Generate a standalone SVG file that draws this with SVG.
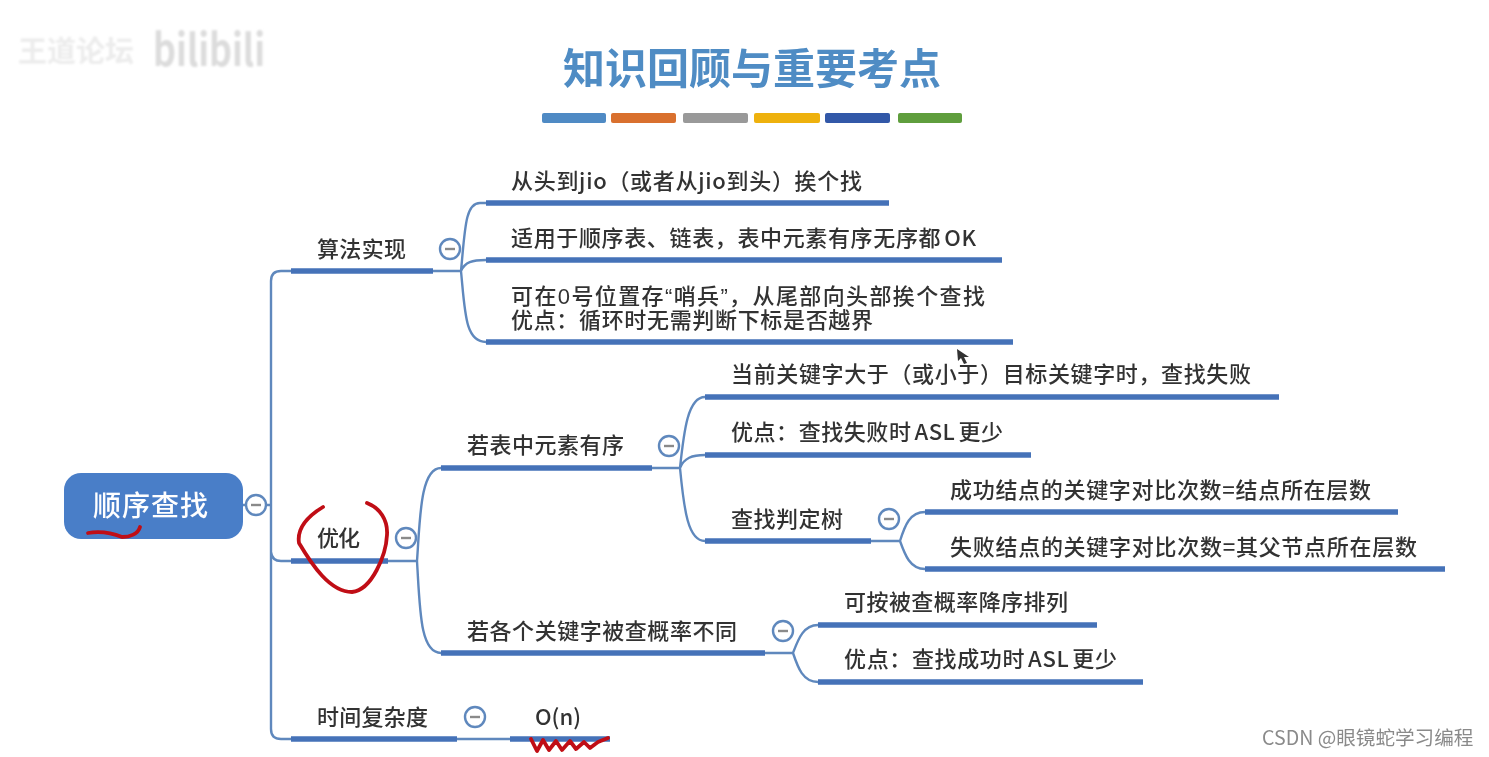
<svg xmlns="http://www.w3.org/2000/svg" width="1489" height="757" viewBox="0 0 1489 757">
<style>
text{font-family:"Noto Sans CJK SC","Liberation Sans",sans-serif}
.t{font-size:22px;fill:#333;font-weight:500}
.b{stroke:#4472b8;stroke-width:5.5;fill:none}
.c{stroke:#5f88bd;stroke-width:2.4;fill:none}
.r{stroke:#c00f14;stroke-width:3.8;fill:none;stroke-linecap:round;stroke-linejoin:round}
.k circle{fill:#fff;stroke:#5f88bd;stroke-width:2.4}
.k path{stroke:#8a8a8a;stroke-width:2.4}
.q{font-family:"Liberation Sans","Noto Sans CJK SC",sans-serif}
</style>
<defs>
<filter id="soft" x="-2%" y="-2%" width="104%" height="104%"><feGaussianBlur stdDeviation="0.55"/></filter>
<filter id="wm" x="-10%" y="-20%" width="120%" height="140%"><feGaussianBlur stdDeviation="1.3"/></filter>
</defs>
<rect width="1489" height="757" fill="#fff"/>
<g id="watermark" filter="url(#wm)"><text x="18" y="62" font-size="29" font-weight="700" fill="#ececec">王道论坛</text><text x="153" y="66" font-size="44" font-weight="700" fill="#dcdcdc" textLength="112" lengthAdjust="spacingAndGlyphs">bilibili</text></g>
<g filter="url(#soft)">
<g id="title"><text x="752" y="84" text-anchor="middle" font-size="42" font-weight="700" fill="#4f8cc4">知识回顾与重要考点</text>
<g id="title-bars"><rect x="542" y="113" width="64" height="10" rx="2" fill="#4f8ac4"/><rect x="611" y="113" width="65" height="10" rx="2" fill="#d9702f"/><rect x="683" y="113" width="65" height="10" rx="2" fill="#999"/><rect x="754" y="113" width="66" height="10" rx="2" fill="#eeb111"/><rect x="825" y="113" width="65" height="10" rx="2" fill="#3358a8"/><rect x="898" y="113" width="64" height="10" rx="2" fill="#5f9e3c"/></g></g>
<g id="connectors">
<path class="c" d="M243 505H271M291 271H281Q271 271 271 281V729Q271 739 281 739H291M271 552Q272 561 281 561H291"/>
<path class="c" d="M433 271H461M486 203H480C465 203 465 230 461 271C465 312 465 342 486 342M461 271C465 262 472 260 486 260"/>
<path class="c" d="M388 561H417M441 468C420 468 420 520 417 561C420 610 420 653 441 653"/>
<path class="c" d="M652 468H680M705 397C688 397 684 430 680 468C684 510 688 541 705 541M680 468C684 458 692 455 705 455"/>
<path class="c" d="M871 541H900M925 512C910 512 905 525 900 541C905 555 910 569 925 569"/>
<path class="c" d="M765 653H793M818 625C803 625 798 640 793 653C798 668 803 682 818 682"/>
<path class="c" d="M457 739H510"/>
</g>
<g id="root"><rect x="64" y="473" width="179" height="66" rx="17" fill="#4a7ec8"/><text x="93" y="516" font-size="28" font-weight="500" fill="#fff" textLength="115">顺序查找</text></g>
<g id="n1"><text class="t" x="317" y="257" textLength="89">算法实现</text><path class="b" d="M291 271H433"/></g>
<g id="n2"><text class="t" x="317" y="546" textLength="43">优化</text><path class="b" d="M291 561H388"/></g>
<g id="n3"><text class="t" x="317" y="725" textLength="111">时间复杂度</text><path class="b" d="M291 739H457"/></g>
<g id="n4"><text class="t" x="511" y="189" textLength="351">从头到jio（或者从jio到头）挨个找</text><path class="b" d="M486 203H889"/></g>
<g id="n5"><text class="t" x="511" y="246" textLength="465">适用于顺序表、链表，表中元素有序无序都<tspan dx="3">OK</tspan></text><path class="b" d="M486 260H1002"/></g>
<g id="n6"><text class="t q" x="511" y="304" textLength="474">可在0号位置存“哨兵”，从尾部向头部挨个查找</text><text class="t" x="511" y="328" textLength="362">优点：循环时无需判断下标是否越界</text><path class="b" d="M486 342H1013"/></g>
<g id="n7"><text class="t" x="467" y="453" textLength="157">若表中元素有序</text><path class="b" d="M441 468H652"/></g>
<g id="n8"><text class="t" x="467" y="639" textLength="270">若各个关键字被查概率不同</text><path class="b" d="M441 653H765"/></g>
<g id="n9"><text class="t" x="731" y="382" textLength="520">当前关键字大于（或小于）目标关键字时，查找失败</text><path class="b" d="M705 397H1279"/></g>
<g id="n10"><text class="t" x="731" y="440" textLength="272">优点：查找失败时<tspan dx="3">ASL</tspan><tspan dx="3">更少</tspan></text><path class="b" d="M705 455H1031"/></g>
<g id="n11"><text class="t" x="731" y="527" textLength="112">查找判定树</text><path class="b" d="M705 541H871"/></g>
<g id="n12"><text class="t" x="950" y="498" textLength="421">成功结点的关键字对比次数=结点所在层数</text><path class="b" d="M925 512H1398"/></g>
<g id="n13"><text class="t" x="950" y="555" textLength="467">失败结点的关键字对比次数=其父节点所在层数</text><path class="b" d="M925 569H1445"/></g>
<g id="n14"><text class="t" x="844" y="610" textLength="224">可按被查概率降序排列</text><path class="b" d="M818 625H1097"/></g>
<g id="n15"><text class="t" x="844" y="667" textLength="273">优点：查找成功时<tspan dx="3">ASL</tspan><tspan dx="3">更少</tspan></text><path class="b" d="M818 682H1143"/></g>
<g id="n16"><text class="t" x="535" y="725">O(n)</text><path class="b" d="M510 739H610"/></g>
<g id="toggles" class="k">
<g><circle cx="256" cy="505" r="10"/><path d="M251 505h10"/></g>
<g><circle cx="450" cy="249" r="10"/><path d="M445 249h10"/></g>
<g><circle cx="406" cy="538" r="10"/><path d="M401 538h10"/></g>
<g><circle cx="475" cy="717" r="10"/><path d="M470 717h10"/></g>
<g><circle cx="669" cy="446" r="10"/><path d="M664 446h10"/></g>
<g><circle cx="783" cy="631" r="10"/><path d="M778 631h10"/></g>
<g><circle cx="889" cy="519" r="10"/><path d="M884 519h10"/></g>
</g>
<g id="annotations">
<path class="r" d="M323 507C305 518 297 530 299 543C312 565 330 592 352 592C372 590 386 555 387 535C388 520 380 508 367 503"/>
<path class="r" d="M88 533C100 531 112 533 122 537C130 537 138 534 140 527"/>
<path class="r" d="M531 739L537 751L543 740L549 750L556 741L562 750L570 741L576 749L584 742L590 748L598 742L608 738"/>
</g>
<g id="cursor"><path d="M957 349l1 12 3-3 3 6 3-1-3-6h5z" fill="#333"/></g>
<text x="1262" y="745" font-size="19.6" fill="#8a8a8a">CSDN @眼镜蛇学习编程</text>
</g>
</svg>
